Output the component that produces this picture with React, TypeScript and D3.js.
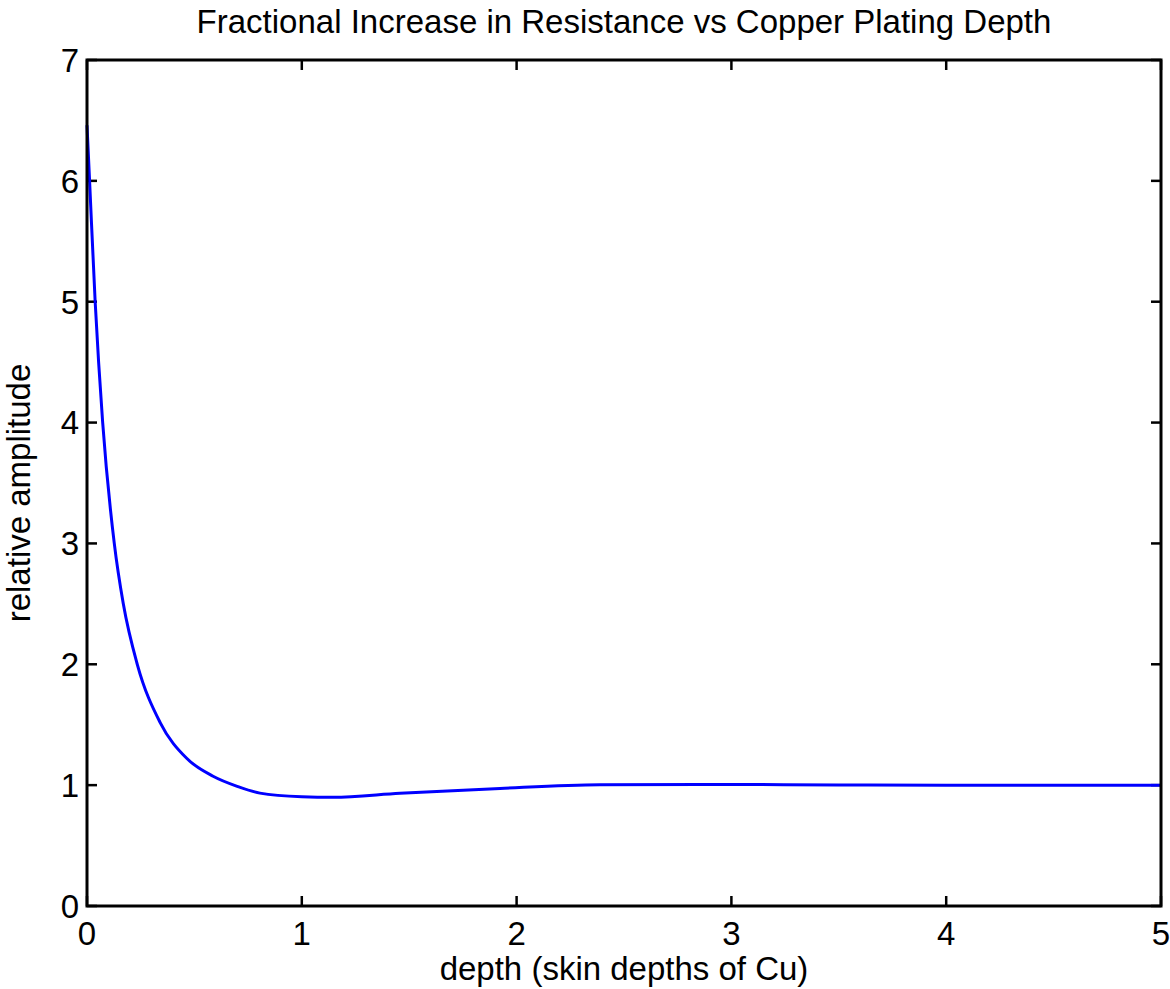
import React from "react";
import * as d3 from "d3";

// depth in skin depths of Cu
const depths = [
  0, 0.012, 0.038, 0.073, 0.127, 0.169, 0.234, 0.34, 0.464, 0.587, 0.7, 0.805,
  1.0, 1.145, 1.457, 1.923, 2.388, 2.85, 3.5, 4, 5,
];
// fractional increase in resistance at each depth
const ratios = [
  6.46, 6.0, 5.0, 4.0, 3.0, 2.5, 2.0, 1.52, 1.222, 1.074, 0.99, 0.934, 0.904,
  0.899, 0.932, 0.973, 1.003, 1.006, 1.002, 1.0, 1.0,
];
const xTicks = [0, 1, 2, 3, 4, 5];
const yTicks = [0, 1, 2, 3, 4, 5, 6, 7];

const W = 1170;
const H = 989;
const left = 87;
const right = 1161;
const top = 60;
const bottom = 906;
const font = "'Liberation Sans', Arial, sans-serif";
const fs = 33;

export default function App() {
  const x = d3.scaleLinear().domain([0, 5]).range([left, right]);
  const y = d3.scaleLinear().domain([0, 7]).range([bottom, top]);

  const pts: [number, number][] = depths.map((d, i) => [d, ratios[i]]);
  const line = d3
    .line<[number, number]>()
    .x((d) => x(d[0]))
    .y((d) => y(d[1]))
    .curve(d3.curveMonotoneX);

  const tl = 10;

  return (
    <svg
      width={W}
      height={H}
      style={{ position: "absolute", left: 0, top: 0, background: "#fff" }}
      fontFamily={font}
    >
      <rect x={0} y={0} width={W} height={H} fill="#fff" />

      {/* ticks, inward on all four sides */}
      {xTicks.map((t) => (
        <g key={"x" + t} stroke="#000" strokeWidth={2.5}>
          <line x1={x(t)} x2={x(t)} y1={bottom} y2={bottom - tl} />
          <line x1={x(t)} x2={x(t)} y1={top} y2={top + tl} />
        </g>
      ))}
      {yTicks.map((t) => (
        <g key={"y" + t} stroke="#000" strokeWidth={2.5}>
          <line x1={left} x2={left + tl} y1={y(t)} y2={y(t)} />
          <line x1={right} x2={right - tl} y1={y(t)} y2={y(t)} />
        </g>
      ))}

      <path d={line(pts) || ""} fill="none" stroke="#0000ff" strokeWidth={3} />

      <rect
        x={left}
        y={top}
        width={right - left}
        height={bottom - top}
        fill="none"
        stroke="#000"
        strokeWidth={3}
      />

      {xTicks.map((t) => (
        <text key={"xl" + t} x={x(t)} y={bottom + 39} fontSize={fs} textAnchor="middle">
          {t}
        </text>
      ))}
      {yTicks.map((t) => (
        <text
          key={"yl" + t}
          x={left - 8}
          y={y(t)}
          dy="0.36em"
          fontSize={fs}
          textAnchor="end"
        >
          {t}
        </text>
      ))}

      <text x={(left + right) / 2} y={33} fontSize={fs} textAnchor="middle">
        Fractional Increase in Resistance vs Copper Plating Depth
      </text>
      <text x={(left + right) / 2} y={980} fontSize={fs} textAnchor="middle">
        depth (skin depths of Cu)
      </text>
      <text
        transform={`translate(30, ${(top + bottom) / 2 + 10}) rotate(-90)`}
        fontSize={fs}
        textAnchor="middle"
      >
        relative amplitude
      </text>
    </svg>
  );
}
